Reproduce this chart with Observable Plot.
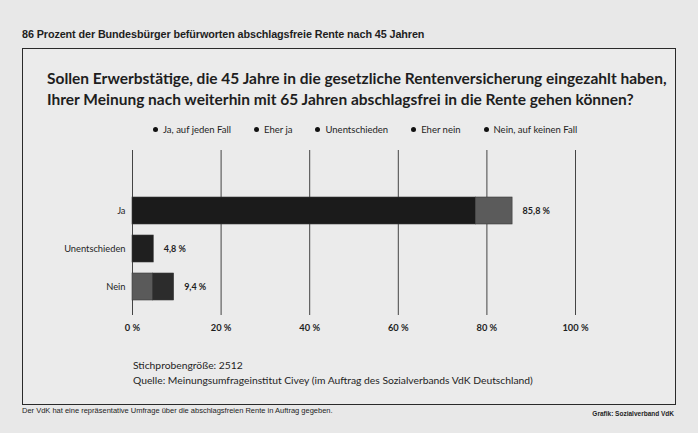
<!DOCTYPE html>
<html><head><meta charset="utf-8">
<script src="https://cdn.jsdelivr.net/npm/d3@7"></script>
<script src="https://cdn.jsdelivr.net/npm/@observablehq/plot@0.6"></script>
<style>
html,body{margin:0;padding:0;}
body{width:698px;height:433px;background:#e8e8e8;position:relative;overflow:hidden;font-family:Lato,"Open Sans",sans-serif;color:#1e1e1e;}
.abs{position:absolute;white-space:nowrap;}
#cap{left:22px;top:28px;font:bold 10.8px "Liberation Sans",Arial,sans-serif;letter-spacing:-0.1px;}
#box{left:22px;top:48px;width:652px;height:355px;border:1.6px solid #2a2a2a;background:#ebebeb;}
#title{left:47px;top:68px;font-weight:bold;font-size:15.5px;line-height:21px;}
#legend{left:153px;top:124px;display:flex;gap:23px;font-size:9.5px;}
#legend span.item{display:flex;align-items:center;gap:5px;}
#legend i{display:inline-block;width:5px;height:5px;border-radius:50%;background:#111;}
#chart{left:0;top:140px;}
#n{left:133px;top:358px;font-size:10.3px;line-height:15px;}
#foot{left:22px;top:406px;font:7.5px "Liberation Sans",Arial,sans-serif;}
#graf{right:24px;top:410px;font:bold 6.5px "Liberation Sans Narrow","Liberation Sans",Arial,sans-serif;}
</style></head>
<body>
<div class="abs" id="cap">86 Prozent der Bundesbürger befürworten abschlagsfreie Rente nach 45 Jahren</div>
<div class="abs" id="box"></div>
<div class="abs" id="title">Sollen Erwerbstätige, die 45 Jahre in die gesetzliche Rentenversicherung eingezahlt haben,<br>Ihrer Meinung nach weiterhin mit 65 Jahren abschlagsfrei in die Rente gehen können?</div>
<div class="abs" id="legend"></div>
<div class="abs" id="chart"></div>
<div class="abs" id="n">Stichprobengröße: 2512<br>Quelle: Meinungsumfrageinstitut Civey (im Auftrag des Sozialverbands VdK Deutschland)</div>
<div class="abs" id="foot">Der VdK hat eine repräsentative Umfrage über die abschlagsfreien Rente in Auftrag gegeben.</div>
<div class="abs" id="graf">Grafik: Sozialverband VdK</div>
<script>
const categories = ["Ja", "Unentschieden", "Nein"];
const answers = ["Ja, auf jeden Fall", "Eher ja", "Unentschieden", "Eher nein", "Nein, auf keinen Fall"];
const answerGroup = ["Ja", "Ja", "Unentschieden", "Nein", "Nein"];
const values = [77.5, 8.3, 4.8, 4.6, 4.8];
const totals = [85.8, 4.8, 9.4];
const totalLabels = ["85,8 %", "4,8 %", "9,4 %"];
const xTicks = [0, 20, 40, 60, 80, 100];
const colors = ["#1b1b1b", "#5b5b5b", "#1f1f1f", "#5a5a5a", "#2c2c2c"];

const rows = answers.map((a, i) => ({answer: a, group: answerGroup[i], value: values[i]}));
const labelRows = categories.map((c, i) => ({group: c, total: totals[i], label: totalLabels[i]}));

const leg = document.getElementById("legend");
answers.forEach(a => {
  const s = document.createElement("span"); s.className = "item";
  s.innerHTML = "<i></i>" + a; leg.appendChild(s);
});

const chart = Plot.plot({
  width: 698, height: 200,
  marginLeft: 132, marginRight: 123, marginTop: 10, marginBottom: 25,
  style: {background: "transparent", fontFamily: "Lato, sans-serif", color: "#1e1e1e"},
  x: {domain: [0, 100], axis: null},
  y: {domain: categories, range: [45, 172], padding: 0.3, axis: null},
  color: {domain: answers, range: colors},
  marks: [
    Plot.ruleX(xTicks, {stroke: "#444", strokeWidth: 1}),
    Plot.barX(rows, Plot.stackX({y: "group", x: "value", fill: "answer", order: null, stroke: "#3a3a3a", strokeWidth: 0.6})),
    Plot.text(labelRows, {x: "total", y: "group", text: "label", dx: 10, textAnchor: "start", fontWeight: "bold", fontSize: 9, fill: "#1e1e1e"}),
    Plot.axisY({tickSize: 0, tickPadding: 7, fontSize: 9.3, fill: "#1e1e1e", label: null}),
    Plot.axisX(xTicks, {anchor: "bottom", tickSize: 0, tickPadding: 9, fontSize: 9.3, fontWeight: "bold", fill: "#1e1e1e", tickFormat: d => d + " %", label: null})
  ]
});
document.getElementById("chart").appendChild(chart);
</script>
</body></html>
